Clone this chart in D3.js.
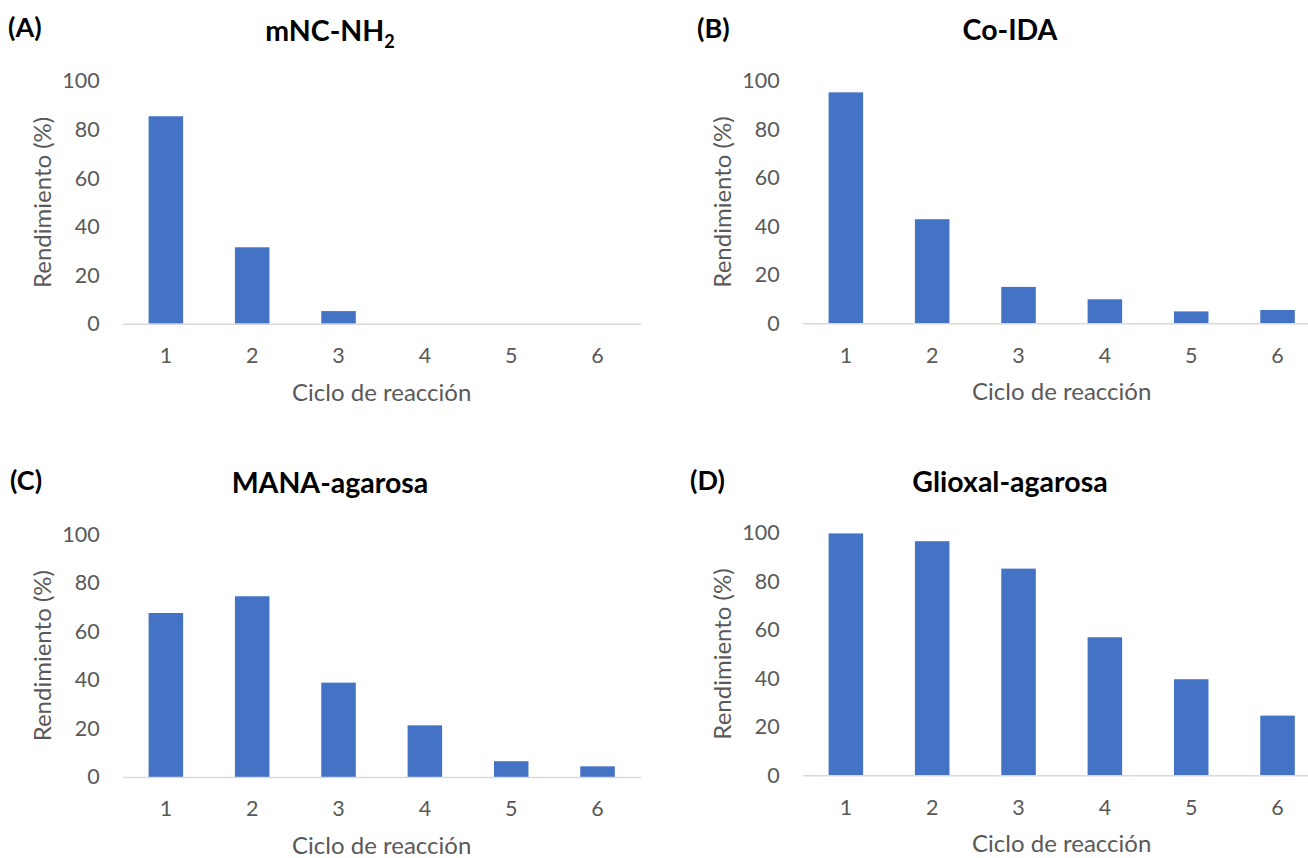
<!DOCTYPE html>
<html>
<head>
<meta charset="utf-8">
<script src="https://cdn.jsdelivr.net/npm/d3@7"></script>
<style>
  html, body { margin: 0; padding: 0; background: #ffffff; }
  svg { display: block; font-family: Lato, "Open Sans", sans-serif; }
</style>
</head>
<body>
<svg id="chart" width="1308" height="858"></svg>
<script>
// Reaction cycles on the x axis and the yield ticks on the y axis
const cycles = ["1", "2", "3", "4", "5", "6"];
const yTicks = [0, 20, 40, 60, 80, 100];

// Yield (%) per reaction cycle for each support
const mncNH2 = [85.5, 31.5, 5.2, 0, 0, 0];
const coIDA = [95.2, 42.9, 15.0, 9.9, 4.9, 5.5];
const manaAgarosa = [67.6, 74.5, 38.9, 21.3, 6.5, 4.4];
const glioxalAgarosa = [99.7, 96.5, 85.2, 56.9, 39.6, 24.6];

const panelLetters = ["(A)", "(B)", "(C)", "(D)"];
const yLabel = "Rendimiento (%)";
const xLabel = "Ciclo de reacción";

// Panel layout: column offset, row baseline
const panels = [
  { letter: panelLetters[0], title: ["mNC-NH", "2"], values: mncNH2,        col: 0,   base: 323.7, titleY: 41, letterX: 8,   letterY: 37 },
  { letter: panelLetters[1], title: ["Co-IDA"],      values: coIDA,         col: 680, base: 323.3, titleY: 40, letterX: 697, letterY: 38 },
  { letter: panelLetters[2], title: ["MANA-agarosa"], values: manaAgarosa,  col: 0,   base: 777,   titleY: 493, letterX: 10, letterY: 490 },
  { letter: panelLetters[3], title: ["Glioxal-agarosa"], values: glioxalAgarosa, col: 680, base: 775.3, titleY: 492, letterX: 690, letterY: 490 }
];

const svg = d3.select("#chart");
const plotW = 518, plotH = 242.6, plotLeft0 = 122.7;

panels.forEach(p => {
  const left = plotLeft0 + p.col;
  const g = svg.append("g");

  const x = d3.scaleBand().domain(cycles).range([left, left + plotW])
    .paddingInner(0.6).paddingOuter(0.3);
  const y = d3.scaleLinear().domain([0, 100]).range([p.base, p.base - plotH]);

  // bars
  g.selectAll("rect.bar").data(p.values).join("rect")
    .attr("class", "bar")
    .attr("x", (d, i) => x(cycles[i]))
    .attr("width", x.bandwidth())
    .attr("y", d => y(d))
    .attr("height", d => y(0) - y(d))
    .attr("fill", "#4472c4");

  // x axis
  const xa = g.append("g").attr("transform", `translate(0,${p.base})`)
    .call(d3.axisBottom(x).tickSize(0).tickSizeOuter(0).tickPadding(24));
  xa.select(".domain").attr("stroke", "#d9d9d9").attr("stroke-width", 1.6);
  xa.selectAll("text").attr("fill", "#595959").attr("font-size", 21.5)
    .attr("font-family", "Lato");

  // y axis
  const ya = g.append("g").attr("transform", `translate(${left - 23},0)`)
    .call(d3.axisLeft(y).tickValues(yTicks).tickSize(0).tickPadding(0));
  ya.select(".domain").remove();
  ya.selectAll("text").attr("fill", "#595959").attr("font-size", 21.5)
    .attr("font-family", "Lato");

  // axis titles
  g.append("text")
    .attr("x", left + plotW / 2).attr("y", p.base + 77)
    .attr("text-anchor", "middle").attr("fill", "#595959")
    .attr("font-size", 24).text(xLabel);
  g.append("text")
    .attr("transform", `translate(${p.col + 42},${p.base - plotH / 2}) rotate(-90)`)
    .attr("text-anchor", "middle").attr("dy", "0.36em").attr("fill", "#595959")
    .attr("font-size", 24).text(yLabel);

  // chart title
  const t = g.append("text")
    .attr("x", p.col + 330).attr("y", p.titleY)
    .attr("text-anchor", "middle").attr("font-weight", "bold")
    .attr("font-size", 28.5).attr("fill", "#000");
  t.append("tspan").text(p.title[0]);
  if (p.title[1]) {
    t.append("tspan").attr("font-size", 18).attr("dy", 7).text(p.title[1]);
  }

  // panel letter
  g.append("text")
    .attr("x", p.letterX).attr("y", p.letterY)
    .attr("font-weight", "bold").attr("font-size", 27).attr("fill", "#000")
    .text(p.letter);
});
</script>
</body>
</html>
